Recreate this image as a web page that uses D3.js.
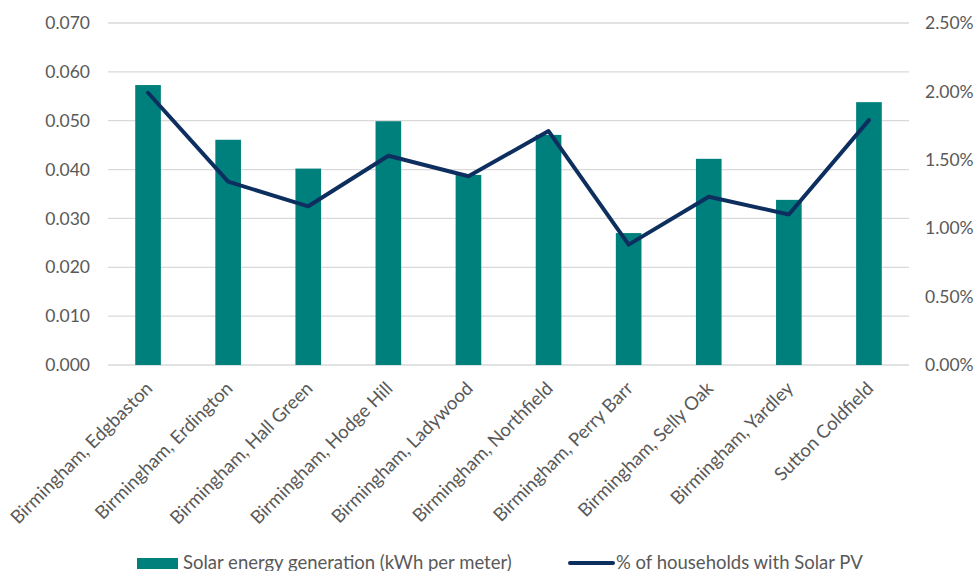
<!DOCTYPE html>
<html>
<head>
<meta charset="utf-8">
<script src="https://cdn.jsdelivr.net/npm/d3@7"></script>
<style>
  html, body { margin: 0; padding: 0; background: #ffffff; }
  svg { display: block; }
  text { font-family: Lato, "Open Sans", sans-serif; fill: #595959; }
</style>
</head>
<body>
<svg id="chart" width="978" height="571"></svg>
<script>
// Constituencies along the x axis
const constituencies = [
  "Birmingham, Edgbaston",
  "Birmingham, Erdington",
  "Birmingham, Hall Green",
  "Birmingham, Hodge Hill",
  "Birmingham, Ladywood",
  "Birmingham, Northfield",
  "Birmingham, Perry Barr",
  "Birmingham, Selly Oak",
  "Birmingham, Yardley",
  "Sutton Coldfield"
];

// Bars: solar energy generation (kWh per meter)
const generation = [0.0573, 0.0461, 0.0402, 0.0499, 0.0389, 0.0471, 0.0270, 0.0422, 0.0338, 0.0538];

// Line: share of households with solar PV
const householdsPV = [0.0199, 0.0134, 0.0116, 0.0153, 0.0138, 0.0171, 0.0088, 0.0123, 0.0110, 0.0179];

// Axis ticks
const leftTicks = [0, 0.01, 0.02, 0.03, 0.04, 0.05, 0.06, 0.07];
const rightTicks = [0, 0.005, 0.01, 0.015, 0.02, 0.025];

const seriesNames = ["Solar energy generation (kWh per meter)", "% of households with Solar PV"];

const barColor = "#00807d";
const lineColor = "#0d2f5f";
const gridColor = "#d9d9d9";

const svg = d3.select("#chart");
const plot = { left: 108, right: 909, top: 23, bottom: 365 };

const x = d3.scaleBand()
  .domain(constituencies)
  .range([plot.left, plot.right])
  .paddingInner(0.68)
  .paddingOuter(0.34);

const yLeft = d3.scaleLinear().domain([0, 0.07]).range([plot.bottom, plot.top]);
const yRight = d3.scaleLinear().domain([0, 0.025]).range([plot.bottom, plot.top]);

// Horizontal gridlines (includes the baseline at zero)
svg.append("g")
  .selectAll("line")
  .data(leftTicks)
  .join("line")
  .attr("x1", plot.left)
  .attr("x2", plot.right)
  .attr("y1", d => yLeft(d))
  .attr("y2", d => yLeft(d))
  .attr("stroke", gridColor)
  .attr("stroke-width", 1.3);

// Left axis labels
const leftAxis = d3.axisLeft(yLeft).tickValues(leftTicks).tickFormat(d3.format(".3f")).tickSize(0).tickPadding(18);
const gL = svg.append("g").attr("transform", `translate(${plot.left},0)`).call(leftAxis);
gL.select(".domain").remove();
gL.selectAll("text").style("font-size", "17.5px").attr("fill", "#595959").style("font-family", "Lato, sans-serif");

// Right axis labels
const rightAxis = d3.axisRight(yRight).tickValues(rightTicks).tickFormat(d3.format(".2%")).tickSize(0).tickPadding(16);
const gR = svg.append("g").attr("transform", `translate(${plot.right},0)`).call(rightAxis);
gR.select(".domain").remove();
gR.selectAll("text").style("font-size", "17.5px").attr("fill", "#595959").style("font-family", "Lato, sans-serif");

// Bars
svg.append("g")
  .selectAll("rect")
  .data(constituencies)
  .join("rect")
  .attr("x", d => x(d))
  .attr("width", x.bandwidth())
  .attr("y", (d, i) => yLeft(generation[i]))
  .attr("height", (d, i) => yLeft(0) - yLeft(generation[i]))
  .attr("fill", barColor);

// Line on the secondary axis
const line = d3.line()
  .x((d, i) => x(constituencies[i]) + x.bandwidth() / 2)
  .y(d => yRight(d));

svg.append("path")
  .datum(householdsPV)
  .attr("d", line)
  .attr("fill", "none")
  .attr("stroke", lineColor)
  .attr("stroke-width", 4)
  .attr("stroke-linejoin", "round")
  .attr("stroke-linecap", "round");

// Rotated category labels
svg.append("g")
  .selectAll("text")
  .data(constituencies)
  .join("text")
  .attr("transform", d => `translate(${x(d) + x.bandwidth() / 2 + 1},${plot.bottom + 20}) rotate(-45)`)
  .attr("text-anchor", "end")
  .attr("dy", "0.35em")
  .style("font-size", "18.5px")
  .text(d => d);

// Legend
const legend = svg.append("g");
legend.append("rect")
  .attr("x", 137).attr("y", 558).attr("width", 41).attr("height", 11)
  .attr("fill", barColor);
legend.append("text")
  .attr("x", 183).attr("y", 569)
  .style("font-size", "18.5px")
  .text(seriesNames[0]);
legend.append("line")
  .attr("x1", 570).attr("x2", 613).attr("y1", 563).attr("y2", 563)
  .attr("stroke", lineColor).attr("stroke-width", 4).attr("stroke-linecap", "round");
legend.append("text")
  .attr("x", 616).attr("y", 569)
  .style("font-size", "18.5px")
  .text(seriesNames[1]);
</script>
</body>
</html>
